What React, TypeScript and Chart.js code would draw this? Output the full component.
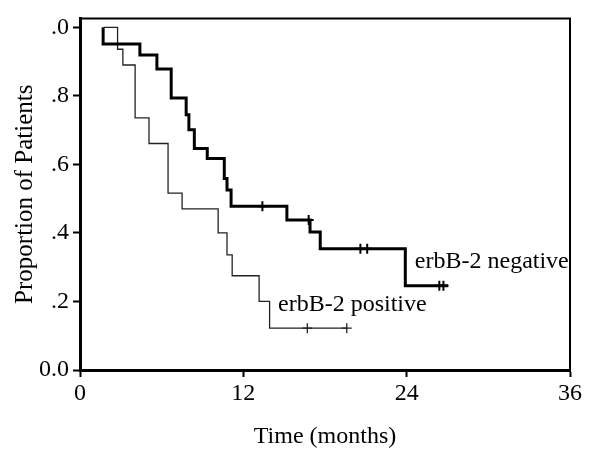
import React, { useEffect, useRef } from "react";
import Chart from "chart.js/auto";

// Kaplan-Meier steps, erbB-2 negative (thick)
const negTimes = [1.7, 1.7, 4.4, 5.65, 6.7, 7.8, 8.0, 8.4, 9.35, 10.6, 10.8, 11.1, 15.2, 16.9, 17.65, 23.9, 27.05];
const negSurv = [1.0, 0.951, 0.919, 0.878, 0.794, 0.745, 0.701, 0.646, 0.617, 0.559, 0.525, 0.478, 0.438, 0.403, 0.354, 0.246, 0.246];
const negCensorTimes = [13.4, 16.8, 20.6, 21.1, 26.4, 26.7];
const negCensorSurv = [0.478, 0.438, 0.354, 0.354, 0.246, 0.246];

// erbB-2 positive (thin)
const posTimes = [1.76, 2.76, 3.15, 4.05, 5.07, 6.47, 7.5, 10.15, 10.8, 11.18, 13.16, 13.93, 19.6];
const posSurv = [1.0, 0.936, 0.89, 0.736, 0.661, 0.516, 0.47, 0.4, 0.336, 0.275, 0.2, 0.122, 0.122];
const posCensorTimes = [16.7, 19.6];
const posCensorSurv = [0.122, 0.122];

const xTickValues = [0, 12, 24, 36];
const yTickValues = [0, 0.2, 0.4, 0.6, 0.8, 1.0];
const yTickLabels = ["0.0", ".2", ".4", ".6", ".8", ".0"];

const xTitle = "Time (months)";
const yTitle = "Proportion of Patients";

const labelNeg = { text: "erbB-2 negative", x: 24.6, y: 0.316 };
const labelPos = { text: "erbB-2 positive", x: 14.55, y: 0.19 };

const FONT = "'Liberation Serif', 'Times New Roman', serif";
const FS = 24;

function pts(xs: number[], ys: number[]) {
  return xs.map((x, i) => ({ x, y: ys[i] }));
}

export default function App() {
  const ref = useRef<HTMLCanvasElement | null>(null);
  useEffect(() => {
    if (!ref.current) return;
    const framePlugin = {
      id: "frame",
      afterDatasetsDraw(chart: any) {
        const { ctx, chartArea, scales } = chart;
        ctx.save();
        ctx.strokeStyle = "#000";
        ctx.lineWidth = 2;
        ctx.beginPath();
        ctx.moveTo(chartArea.left, chartArea.top);
        ctx.lineTo(chartArea.right, chartArea.top);
        ctx.lineTo(chartArea.right, chartArea.bottom);
        ctx.stroke();
        ctx.fillStyle = "#000";
        ctx.font = `${FS}px ${FONT}`;
        ctx.textAlign = "left";
        ctx.textBaseline = "middle";
        for (const l of [labelNeg, labelPos]) {
          ctx.fillText(l.text, scales.x.getPixelForValue(l.x), scales.y.getPixelForValue(l.y));
        }
        ctx.restore();
      },
    };
    const chart = new Chart(ref.current, {
      type: "line",
      data: {
        datasets: [
          {
            data: pts(negTimes, negSurv),
            stepped: "before",
            borderColor: "#000",
            borderWidth: 3,
            pointRadius: 0,
            fill: false,
          },
          {
            data: pts(posTimes, posSurv),
            stepped: "before",
            borderColor: "#222",
            borderWidth: 1.3,
            pointRadius: 0,
            fill: false,
          },
          {
            data: pts(negCensorTimes, negCensorSurv),
            showLine: false,
            pointStyle: "cross",
            pointRadius: 5,
            pointBorderWidth: 2,
            pointBorderColor: "#000",
            borderColor: "#000",
          },
          {
            data: pts(posCensorTimes, posCensorSurv),
            showLine: false,
            pointStyle: "cross",
            pointRadius: 5,
            pointBorderWidth: 1.3,
            pointBorderColor: "#222",
            borderColor: "#222",
          },
        ],
      } as any,
      options: {
        responsive: false,
        animation: false,
        layout: { padding: { left: 0, right: 25, top: 15, bottom: 0 } },
        plugins: { legend: { display: false }, tooltip: { enabled: false } },
        scales: {
          x: {
            type: "linear",
            min: 0,
            max: 36,
            afterBuildTicks: (s: any) => {
              s.ticks = xTickValues.map((v) => ({ value: v }));
            },
            afterFit: (s: any) => {
              s.height = 105;
            },
            border: { display: true, width: 3, color: "#000" },
            grid: { drawOnChartArea: false, tickLength: 7, tickWidth: 2, tickColor: "#000" },
            ticks: { color: "#000", font: { family: FONT, size: FS }, padding: 2, maxRotation: 0 },
            title: { display: true, text: xTitle, color: "#000", font: { family: FONT, size: FS }, padding: { top: 0, bottom: 24 } },
          },
          y: {
            type: "linear",
            min: 0,
            max: 1.026,
            afterBuildTicks: (s: any) => {
              s.ticks = yTickValues.map((v) => ({ value: v }));
            },
            afterFit: (s: any) => {
              s.width = 80;
            },
            border: { display: true, width: 3, color: "#000" },
            grid: { drawOnChartArea: false, tickLength: 7, tickWidth: 2, tickColor: "#000" },
            ticks: {
              color: "#000",
              font: { family: FONT, size: FS },
              padding: 4,
              callback: (_v: any, i: number) => yTickLabels[i],
            },
            title: { display: true, text: yTitle, color: "#000", font: { family: FONT, size: 25 }, padding: { top: 10, bottom: 0 } },
          },
        },
      } as any,
      plugins: [framePlugin],
    });
    return () => chart.destroy();
  }, []);
  return (
    <div style={{ position: "absolute", left: 0, top: 0, width: 595, height: 475, background: "#fff" }}>
      <canvas ref={ref} width={595} height={475} style={{ width: 595, height: 475 }} />
    </div>
  );
}
